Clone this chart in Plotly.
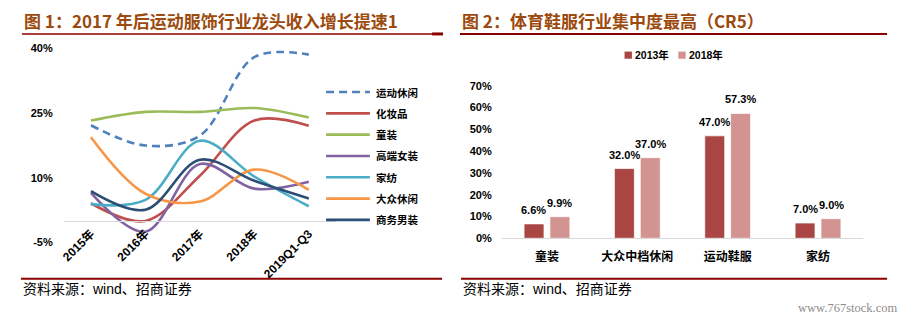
import plotly.graph_objects as go

W, H = 905, 332

# ---------------- Left chart data ----------------
years = ["2015年", "2016年", "2017年", "2018年", "2019Q1-Q3"]
series_names = ["运动休闲", "化妆品", "童装", "高端女装", "家纺", "大众休闲", "商务男装"]
sports_leisure = [22.2, 17.5, 19.8, 38.0, 38.6]
cosmetics = [4.1, 0.0, 10.5, 23.3, 22.1]
kids_wear = [23.3, 25.3, 25.3, 26.2, 24.0]
high_end_women = [6.5, -2.5, 13.2, 7.5, 9.1]
home_textile = [3.9, 4.9, 18.6, 10.3, 3.4]
mass_leisure = [19.4, 6.3, 4.5, 11.9, 7.2]
business_men = [6.9, 2.6, 14.2, 9.3, 5.2]
left_ticks = [-5, 10, 25, 40]

# ---------------- Right chart data ----------------
bar_cats = ["童装", "大众中档休闲", "运动鞋服", "家纺"]
bar_names = ["2013年", "2018年"]
cr5_2013 = [6.6, 32.0, 47.0, 7.0]
cr5_2018 = [9.9, 37.0, 57.3, 9.0]
right_ticks = [0, 10, 20, 30, 40, 50, 60, 70]

# ---------------- styles ----------------
line_colors = ["#4F81BD", "#C0504D", "#9BBB59", "#8064A2", "#4BACC6", "#F79646", "#2C4D75"]
line_dashes = ["8px,5px", "solid", "solid", "solid", "solid", "solid", "solid"]
bar_colors = ["#A94643", "#D29391"]
FONT = "Liberation Sans, Noto Sans CJK SC, sans-serif"
CJK = "Noto Sans CJK SC, sans-serif"
TITLE_COLOR = "#9C4A0E"
RULE_COLOR = "#8B0000"


def px(x):
    return x / W


def py(y):
    return 1 - y / H


fig = go.Figure()

left_values = [sports_leisure, cosmetics, kids_wear, high_end_women,
               home_textile, mass_leisure, business_men]
for i, (name, vals) in enumerate(zip(series_names, left_values)):
    fig.add_trace(go.Scatter(
        x=years, y=vals, name=name, mode="lines",
        line=dict(color=line_colors[i], width=2.6, shape="spline", smoothing=1.0,
                  dash=line_dashes[i]),
        xaxis="x", yaxis="y", showlegend=False, hoverinfo="skip",
    ))

for vals, name, col in zip([cr5_2013, cr5_2018], bar_names, bar_colors):
    fig.add_trace(go.Bar(
        x=bar_cats, y=vals, name=name,
        marker=dict(color=col, line=dict(color="rgba(255,255,255,0.7)", width=1)),
        xaxis="x2", yaxis="y2", showlegend=False, hoverinfo="skip",
    ))

annotations = []
shapes = []

# value labels above bars
for vals, shift in [(cr5_2013, -13), (cr5_2018, 13)]:
    for c, v in zip(bar_cats, vals):
        annotations.append(dict(
            x=c, y=v, xref="x2", yref="y2", text=f"{v:.1f}%", showarrow=False,
            xanchor="center", yanchor="bottom", xshift=shift, yshift=6,
            font=dict(family=FONT, size=11, color="#000000", weight="bold"),
        ))

# left legend (vertical, long line samples)
for i, name in enumerate(series_names):
    yc = 89.3 + 22.1 * i
    shapes.append(dict(type="line", xref="paper", yref="paper",
                       x0=px(323.5), x1=px(367.5), y0=py(yc), y1=py(yc),
                       line=dict(color=line_colors[i], width=2.6, dash=line_dashes[i])))
    annotations.append(dict(x=px(371.5), y=py(yc), xref="paper", yref="paper",
                            xanchor="left", yanchor="middle", text=name, showarrow=False,
                            font=dict(family=CJK, size=10.5, color="#000000", weight="bold")))

# right legend (horizontal, small squares)
for name, col, x0 in zip(bar_names, bar_colors, (623.3, 677.3)):
    shapes.append(dict(type="rect", xref="paper", yref="paper",
                       x0=px(x0), x1=px(x0 + 7.4), y0=py(54.7), y1=py(47.3),
                       fillcolor=col, line=dict(width=0)))
    annotations.append(dict(x=px(x0 + 8.6), y=py(51), xref="paper", yref="paper",
                            xanchor="left", yanchor="middle", text=name, showarrow=False,
                            font=dict(family=FONT, size=10.5, color="#000000", weight="bold")))

# titles
annotations.append(dict(x=px(18), y=py(15), xref="paper", yref="paper", xanchor="left", yanchor="middle",
                        text="图 1：2017 年后运动服饰行业龙头收入增长提速1", showarrow=False,
                        font=dict(family=CJK, size=17, color=TITLE_COLOR, weight="bold")))
annotations.append(dict(x=px(458), y=py(15), xref="paper", yref="paper", xanchor="left", yanchor="middle",
                        text="图 2：体育鞋服行业集中度最高（CR5）", showarrow=False,
                        font=dict(family=CJK, size=17, color=TITLE_COLOR, weight="bold")))
# sources
for x0 in (17, 459):
    annotations.append(dict(x=px(x0), y=py(294), xref="paper", yref="paper", xanchor="left", yanchor="middle",
                            text="资料来源：wind、招商证券", showarrow=False,
                            font=dict(family=FONT, size=14, color="#000000")))
annotations.append(dict(x=px(899), y=py(313), xref="paper", yref="paper", xanchor="right", yanchor="middle",
                        text="www.767stock.com", showarrow=False,
                        font=dict(family="Liberation Serif, serif", size=12.5, color="#8C8C8C")))

shapes += [
    dict(type="line", xref="paper", yref="paper", x0=px(18), x1=px(431), y0=py(29), y1=py(29),
         line=dict(color=RULE_COLOR, width=1.5)),
    dict(type="line", xref="paper", yref="paper", x0=px(430), x1=px(441), y0=py(29), y1=py(29),
         line=dict(color=RULE_COLOR, width=3)),
    dict(type="line", xref="paper", yref="paper", x0=px(458), x1=px(887), y0=py(29), y1=py(29),
         line=dict(color=RULE_COLOR, width=2)),
    dict(type="line", xref="paper", yref="paper", x0=px(17), x1=px(440), y0=py(283), y1=py(283),
         line=dict(color=RULE_COLOR, width=2)),
    dict(type="line", xref="paper", yref="paper", x0=px(459), x1=px(887), y0=py(283), y1=py(283),
         line=dict(color=RULE_COLOR, width=2)),
]

axis_font = dict(family=FONT, size=11, color="#000000", weight="bold")

fig.update_layout(
    width=W, height=H,
    margin=dict(l=0, r=0, t=0, b=0),
    paper_bgcolor="white", plot_bgcolor="rgba(0,0,0,0)",
    barmode="group", bargap=0.427, bargroupgap=0.23,
    xaxis=dict(domain=[px(60), px(333.5)], anchor="free", position=py(223), type="category",
               range=[-0.5, 4.5], showline=True, linecolor="#D9D9D9", linewidth=1.2,
               ticks="", tickangle=-45,
               tickfont=dict(family=FONT, size=12, color="#000000", weight="bold"),
               showgrid=False, zeroline=False, fixedrange=True),
    yaxis=dict(domain=[py(249.8), py(39.7)], anchor="x", range=[-6, 41],
               tickvals=left_ticks, ticktext=[f"{v}%" for v in left_ticks],
               showgrid=False, zeroline=False, showline=False, ticks="", tickfont=axis_font,
               ticklabelstandoff=10, fixedrange=True),
    xaxis2=dict(domain=[px(500), px(863)], anchor="y2", type="category",
                showline=True, linecolor="#D9D9D9", linewidth=1.2, ticks="",
                tickfont=dict(family=FONT, size=12, color="#000000", weight="bold"),
                showgrid=False, zeroline=False, ticklabelstandoff=7, fixedrange=True),
    yaxis2=dict(domain=[py(241), py(82.7)], anchor="x2", range=[0, 70],
                tickvals=right_ticks, ticktext=[f"{v}%" for v in right_ticks],
                showgrid=False, zeroline=False, showline=False, ticks="", tickfont=axis_font,
                ticklabelstandoff=9, fixedrange=True),
    annotations=annotations,
    shapes=shapes,
    showlegend=False,
)

fig.write_html("out.html")
